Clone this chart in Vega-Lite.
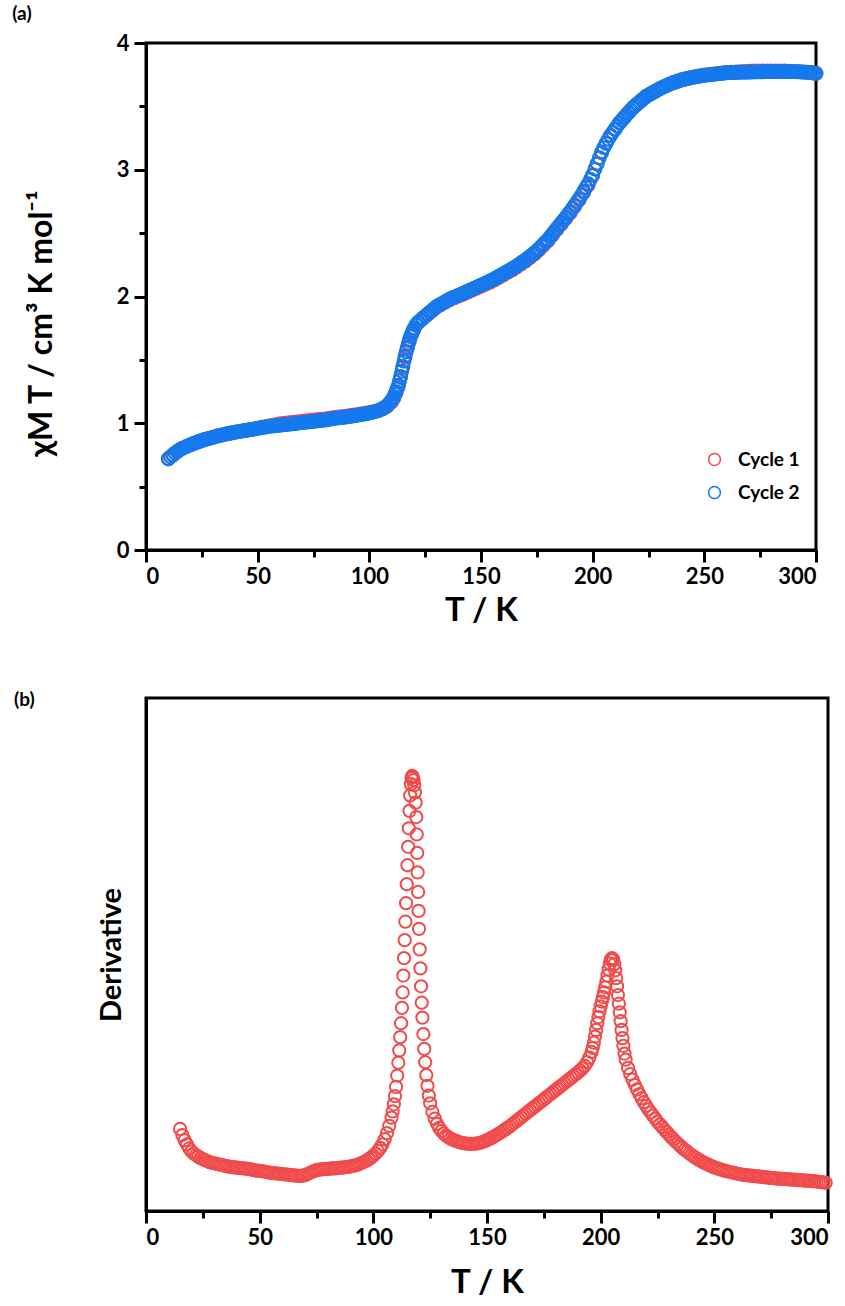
{
"$schema": "https://vega.github.io/schema/vega-lite/v6.json",
"padding": {"top": 3, "left": 10, "right": 0, "bottom": 0},
"background": "white",
"spacing": 60,
"config": {
 "view": {"stroke": "black", "strokeWidth": 3},
 "axis": {"domainColor": "black", "domainWidth": 3, "tickColor": "black", "tickWidth": 3, "tickSize": 12, "labelFont": "Lato", "labelFontWeight": "bold", "labelFontSize": 22, "labelColor": "black", "titleFont": "Lato", "titleFontWeight": "bold", "titleFontSize": 33, "titleColor": "black", "grid": false},
 "legend": {"labelFont": "Lato", "labelFontWeight": "bold", "labelFontSize": 19, "labelColor": "black", "symbolType": "circle", "symbolSize": 140, "symbolStrokeWidth": 1.5, "rowPadding": 13, "labelOffset": 14},
 "title": {"font": "Lato", "fontWeight": "bold", "fontSize": 19, "color": "black"}
},
"datasets": {
 "c1": [
{"T":10,"v":0.72},{"T":12,"v":0.75},{"T":14,"v":0.778},{"T":16,"v":0.8},{"T":18,"v":0.816},{"T":20,"v":0.831},{"T":22,"v":0.845},{"T":24,"v":0.858},{"T":26,"v":0.87},{"T":28,"v":0.88},{"T":30,"v":0.89},{"T":32,"v":0.9},{"T":34,"v":0.908},{"T":36,"v":0.916},{"T":38,"v":0.923},{"T":40,"v":0.93},{"T":42,"v":0.936},{"T":44,"v":0.942},{"T":46,"v":0.948},{"T":48,"v":0.954},{"T":50,"v":0.962},{"T":52,"v":0.969},{"T":54,"v":0.975},{"T":56,"v":0.982},{"T":58,"v":0.988},{"T":60,"v":0.996},{"T":62,"v":1.0},{"T":64,"v":1.004},{"T":66,"v":1.008},{"T":68,"v":1.012},{"T":70,"v":1.016},{"T":72,"v":1.02},{"T":74,"v":1.024},{"T":76,"v":1.028},{"T":78,"v":1.032},{"T":80,"v":1.035},{"T":82,"v":1.04},{"T":84,"v":1.046},{"T":86,"v":1.05},{"T":88,"v":1.054},{"T":90,"v":1.058},{"T":92,"v":1.063},{"T":94,"v":1.068},{"T":96,"v":1.074},{"T":98,"v":1.08},{"T":100,"v":1.085},{"T":102,"v":1.092},{"T":104,"v":1.1},{"T":106,"v":1.114},{"T":108,"v":1.135},{"T":110,"v":1.17},{"T":111,"v":1.2},{"T":112,"v":1.24},{"T":113,"v":1.29},{"T":114,"v":1.36},{"T":115,"v":1.44},{"T":116,"v":1.52},{"T":117,"v":1.59},{"T":118,"v":1.65},{"T":119,"v":1.7},{"T":120,"v":1.74},{"T":122,"v":1.795},{"T":124,"v":1.826},{"T":126,"v":1.856},{"T":128,"v":1.886},{"T":130,"v":1.915},{"T":132,"v":1.935},{"T":134,"v":1.955},{"T":136,"v":1.975},{"T":138,"v":1.99},{"T":140,"v":2.003},{"T":142,"v":2.018},{"T":144,"v":2.034},{"T":146,"v":2.05},{"T":148,"v":2.065},{"T":150,"v":2.08},{"T":152,"v":2.096},{"T":154,"v":2.112},{"T":156,"v":2.13},{"T":158,"v":2.15},{"T":160,"v":2.17},{"T":162,"v":2.19},{"T":164,"v":2.21},{"T":166,"v":2.232},{"T":168,"v":2.256},{"T":170,"v":2.28},{"T":172,"v":2.308},{"T":174,"v":2.336},{"T":176,"v":2.368},{"T":178,"v":2.404},{"T":180,"v":2.44},{"T":182,"v":2.484},{"T":184,"v":2.528},{"T":186,"v":2.572},{"T":188,"v":2.616},{"T":190,"v":2.66},{"T":192,"v":2.712},{"T":194,"v":2.764},{"T":196,"v":2.82},{"T":198,"v":2.88},{"T":200,"v":2.955},{"T":202,"v":3.045},{"T":204,"v":3.135},{"T":206,"v":3.21},{"T":208,"v":3.27},{"T":210,"v":3.32},{"T":212,"v":3.37},{"T":214,"v":3.41},{"T":216,"v":3.45},{"T":218,"v":3.49},{"T":220,"v":3.52},{"T":222,"v":3.55},{"T":224,"v":3.58},{"T":226,"v":3.6},{"T":228,"v":3.62},{"T":230,"v":3.64},{"T":232,"v":3.656},{"T":234,"v":3.672},{"T":236,"v":3.686},{"T":238,"v":3.698},{"T":240,"v":3.71},{"T":242,"v":3.72},{"T":244,"v":3.728},{"T":246,"v":3.735},{"T":248,"v":3.742},{"T":250,"v":3.748},{"T":252,"v":3.752},{"T":254,"v":3.756},{"T":256,"v":3.76},{"T":258,"v":3.764},{"T":260,"v":3.768},{"T":262,"v":3.77},{"T":264,"v":3.772},{"T":266,"v":3.774},{"T":268,"v":3.776},{"T":270,"v":3.778},{"T":272,"v":3.78},{"T":274,"v":3.78},{"T":276,"v":3.78},{"T":278,"v":3.78},{"T":280,"v":3.78},{"T":282,"v":3.78},{"T":284,"v":3.78},{"T":286,"v":3.78},{"T":288,"v":3.778},{"T":290,"v":3.776},{"T":292,"v":3.774},{"T":294,"v":3.772},{"T":296,"v":3.77},{"T":298,"v":3.768},{"T":300,"v":3.762}
 ],
 "c2": [
{"T":10,"v":0.72},{"T":11,"v":0.735},{"T":12,"v":0.75},{"T":13,"v":0.765},{"T":14,"v":0.778},{"T":15,"v":0.79},{"T":16,"v":0.8},{"T":17,"v":0.808},{"T":18,"v":0.816},{"T":19,"v":0.824},{"T":20,"v":0.831},{"T":21,"v":0.838},{"T":22,"v":0.845},{"T":23,"v":0.852},{"T":24,"v":0.858},{"T":25,"v":0.864},{"T":26,"v":0.87},{"T":27,"v":0.875},{"T":28,"v":0.88},{"T":29,"v":0.885},{"T":30,"v":0.89},{"T":31,"v":0.895},{"T":32,"v":0.9},{"T":33,"v":0.904},{"T":34,"v":0.908},{"T":35,"v":0.912},{"T":36,"v":0.916},{"T":37,"v":0.92},{"T":38,"v":0.923},{"T":39,"v":0.926},{"T":40,"v":0.93},{"T":41,"v":0.933},{"T":42,"v":0.936},{"T":43,"v":0.939},{"T":44,"v":0.942},{"T":45,"v":0.945},{"T":46,"v":0.948},{"T":47,"v":0.951},{"T":48,"v":0.954},{"T":49,"v":0.957},{"T":50,"v":0.96},{"T":51,"v":0.963},{"T":52,"v":0.966},{"T":53,"v":0.969},{"T":54,"v":0.972},{"T":55,"v":0.975},{"T":56,"v":0.977},{"T":57,"v":0.979},{"T":58,"v":0.981},{"T":59,"v":0.983},{"T":60,"v":0.985},{"T":61,"v":0.987},{"T":62,"v":0.989},{"T":63,"v":0.991},{"T":64,"v":0.993},{"T":65,"v":0.995},{"T":66,"v":0.997},{"T":67,"v":0.999},{"T":68,"v":1.001},{"T":69,"v":1.003},{"T":70,"v":1.005},{"T":71,"v":1.007},{"T":72,"v":1.009},{"T":73,"v":1.011},{"T":74,"v":1.013},{"T":75,"v":1.015},{"T":76,"v":1.017},{"T":77,"v":1.019},{"T":78,"v":1.021},{"T":79,"v":1.023},{"T":80,"v":1.025},{"T":81,"v":1.028},{"T":82,"v":1.031},{"T":83,"v":1.034},{"T":84,"v":1.037},{"T":85,"v":1.04},{"T":86,"v":1.042},{"T":87,"v":1.044},{"T":88,"v":1.046},{"T":89,"v":1.048},{"T":90,"v":1.05},{"T":91,"v":1.053},{"T":92,"v":1.056},{"T":93,"v":1.059},{"T":94,"v":1.062},{"T":95,"v":1.065},{"T":96,"v":1.068},{"T":97,"v":1.071},{"T":98,"v":1.074},{"T":99,"v":1.077},{"T":100,"v":1.08},{"T":101,"v":1.085},{"T":102,"v":1.09},{"T":103,"v":1.095},{"T":104,"v":1.1},{"T":105,"v":1.108},{"T":106,"v":1.116},{"T":107,"v":1.127},{"T":108,"v":1.14},{"T":109,"v":1.16},{"T":110,"v":1.18},{"T":110.5,"v":1.195},{"T":111,"v":1.21},{"T":111.5,"v":1.23},{"T":112,"v":1.25},{"T":112.5,"v":1.275},{"T":113,"v":1.3},{"T":113.5,"v":1.335},{"T":114,"v":1.37},{"T":114.5,"v":1.41},{"T":115,"v":1.45},{"T":115.5,"v":1.49},{"T":116,"v":1.53},{"T":116.5,"v":1.565},{"T":117,"v":1.6},{"T":117.5,"v":1.63},{"T":118,"v":1.66},{"T":118.5,"v":1.685},{"T":119,"v":1.71},{"T":119.5,"v":1.73},{"T":120,"v":1.75},{"T":121,"v":1.78},{"T":122,"v":1.8},{"T":123,"v":1.815},{"T":124,"v":1.83},{"T":125,"v":1.845},{"T":126,"v":1.86},{"T":127,"v":1.875},{"T":128,"v":1.89},{"T":129,"v":1.905},{"T":130,"v":1.92},{"T":131,"v":1.93},{"T":132,"v":1.94},{"T":133,"v":1.95},{"T":134,"v":1.96},{"T":135,"v":1.97},{"T":136,"v":1.98},{"T":137,"v":1.988},{"T":138,"v":1.995},{"T":139,"v":2.003},{"T":140,"v":2.01},{"T":141,"v":2.018},{"T":142,"v":2.026},{"T":143,"v":2.034},{"T":144,"v":2.042},{"T":145,"v":2.05},{"T":146,"v":2.058},{"T":147,"v":2.066},{"T":148,"v":2.074},{"T":149,"v":2.082},{"T":150,"v":2.09},{"T":151,"v":2.098},{"T":152,"v":2.106},{"T":153,"v":2.114},{"T":154,"v":2.122},{"T":155,"v":2.13},{"T":156,"v":2.14},{"T":157,"v":2.15},{"T":158,"v":2.16},{"T":159,"v":2.17},{"T":160,"v":2.18},{"T":161,"v":2.19},{"T":162,"v":2.2},{"T":163,"v":2.21},{"T":164,"v":2.22},{"T":165,"v":2.23},{"T":166,"v":2.242},{"T":167,"v":2.254},{"T":168,"v":2.266},{"T":169,"v":2.278},{"T":170,"v":2.29},{"T":171,"v":2.304},{"T":172,"v":2.318},{"T":173,"v":2.332},{"T":174,"v":2.346},{"T":175,"v":2.36},{"T":176,"v":2.378},{"T":177,"v":2.396},{"T":178,"v":2.414},{"T":179,"v":2.432},{"T":180,"v":2.45},{"T":181,"v":2.472},{"T":182,"v":2.494},{"T":183,"v":2.516},{"T":184,"v":2.538},{"T":185,"v":2.56},{"T":186,"v":2.582},{"T":187,"v":2.604},{"T":188,"v":2.626},{"T":189,"v":2.648},{"T":190,"v":2.67},{"T":191,"v":2.696},{"T":192,"v":2.722},{"T":193,"v":2.748},{"T":194,"v":2.774},{"T":195,"v":2.8},{"T":196,"v":2.83},{"T":197,"v":2.86},{"T":198,"v":2.89},{"T":199,"v":2.925},{"T":200,"v":2.96},{"T":201,"v":3.005},{"T":202,"v":3.05},{"T":203,"v":3.095},{"T":204,"v":3.14},{"T":205,"v":3.175},{"T":206,"v":3.21},{"T":207,"v":3.24},{"T":208,"v":3.27},{"T":209,"v":3.295},{"T":210,"v":3.32},{"T":211,"v":3.345},{"T":212,"v":3.37},{"T":213,"v":3.39},{"T":214,"v":3.41},{"T":215,"v":3.43},{"T":216,"v":3.45},{"T":217,"v":3.47},{"T":218,"v":3.49},{"T":219,"v":3.505},{"T":220,"v":3.52},{"T":221,"v":3.535},{"T":222,"v":3.55},{"T":223,"v":3.565},{"T":224,"v":3.58},{"T":225,"v":3.59},{"T":226,"v":3.6},{"T":227,"v":3.61},{"T":228,"v":3.62},{"T":229,"v":3.63},{"T":230,"v":3.64},{"T":231,"v":3.648},{"T":232,"v":3.656},{"T":233,"v":3.664},{"T":234,"v":3.672},{"T":235,"v":3.68},{"T":236,"v":3.686},{"T":237,"v":3.692},{"T":238,"v":3.698},{"T":239,"v":3.704},{"T":240,"v":3.71},{"T":241,"v":3.714},{"T":242,"v":3.718},{"T":243,"v":3.722},{"T":244,"v":3.726},{"T":245,"v":3.73},{"T":246,"v":3.733},{"T":247,"v":3.736},{"T":248,"v":3.739},{"T":249,"v":3.742},{"T":250,"v":3.745},{"T":251,"v":3.747},{"T":252,"v":3.749},{"T":253,"v":3.751},{"T":254,"v":3.753},{"T":255,"v":3.755},{"T":256,"v":3.757},{"T":257,"v":3.759},{"T":258,"v":3.761},{"T":259,"v":3.763},{"T":260,"v":3.765},{"T":261,"v":3.766},{"T":262,"v":3.767},{"T":263,"v":3.768},{"T":264,"v":3.768},{"T":265,"v":3.769},{"T":266,"v":3.769},{"T":267,"v":3.77},{"T":268,"v":3.77},{"T":269,"v":3.77},{"T":270,"v":3.771},{"T":271,"v":3.771},{"T":272,"v":3.772},{"T":273,"v":3.772},{"T":274,"v":3.772},{"T":275,"v":3.773},{"T":276,"v":3.773},{"T":277,"v":3.773},{"T":278,"v":3.774},{"T":279,"v":3.774},{"T":280,"v":3.774},{"T":281,"v":3.774},{"T":282,"v":3.775},{"T":283,"v":3.775},{"T":284,"v":3.775},{"T":285,"v":3.775},{"T":286,"v":3.775},{"T":287,"v":3.775},{"T":288,"v":3.775},{"T":289,"v":3.774},{"T":290,"v":3.774},{"T":291,"v":3.773},{"T":292,"v":3.773},{"T":293,"v":3.772},{"T":294,"v":3.771},{"T":295,"v":3.77},{"T":296,"v":3.769},{"T":297,"v":3.767},{"T":298,"v":3.765},{"T":299,"v":3.763},{"T":300,"v":3.76}
 ],
 "d": [
{"T":15,"v":16.0},{"T":16,"v":14.8},{"T":17,"v":13.8},{"T":18,"v":13.0},{"T":19,"v":12.2},{"T":20,"v":11.6},{"T":21,"v":11.2},{"T":22,"v":10.9},{"T":23,"v":10.6},{"T":24,"v":10.3},{"T":25,"v":10.1},{"T":26,"v":9.9},{"T":27,"v":9.7},{"T":28,"v":9.5},{"T":29,"v":9.4},{"T":30,"v":9.3},{"T":31,"v":9.2},{"T":32,"v":9.1},{"T":33,"v":9.0},{"T":34,"v":8.9},{"T":35,"v":8.8},{"T":36,"v":8.7},{"T":37,"v":8.6},{"T":38,"v":8.55},{"T":39,"v":8.5},{"T":40,"v":8.45},{"T":41,"v":8.4},{"T":42,"v":8.35},{"T":43,"v":8.3},{"T":44,"v":8.25},{"T":45,"v":8.2},{"T":46,"v":8.1},{"T":47,"v":8.0},{"T":48,"v":7.9},{"T":49,"v":7.85},{"T":50,"v":7.8},{"T":51,"v":7.75},{"T":52,"v":7.7},{"T":53,"v":7.6},{"T":54,"v":7.5},{"T":55,"v":7.45},{"T":56,"v":7.4},{"T":57,"v":7.35},{"T":58,"v":7.3},{"T":59,"v":7.25},{"T":60,"v":7.2},{"T":61,"v":7.15},{"T":62,"v":7.1},{"T":63,"v":7.05},{"T":64,"v":7.0},{"T":65,"v":6.95},{"T":66,"v":6.9},{"T":67,"v":6.85},{"T":68,"v":6.85},{"T":69,"v":6.9},{"T":70,"v":7.0},{"T":71,"v":7.2},{"T":72,"v":7.4},{"T":73,"v":7.6},{"T":74,"v":7.8},{"T":75,"v":7.95},{"T":76,"v":8.05},{"T":77,"v":8.1},{"T":78,"v":8.15},{"T":79,"v":8.2},{"T":80,"v":8.2},{"T":81,"v":8.25},{"T":82,"v":8.3},{"T":83,"v":8.3},{"T":84,"v":8.35},{"T":85,"v":8.4},{"T":86,"v":8.45},{"T":87,"v":8.5},{"T":88,"v":8.55},{"T":89,"v":8.6},{"T":90,"v":8.7},{"T":91,"v":8.8},{"T":92,"v":8.9},{"T":93,"v":9.0},{"T":94,"v":9.2},{"T":95,"v":9.4},{"T":96,"v":9.6},{"T":97,"v":9.8},{"T":98,"v":10.1},{"T":99,"v":10.4},{"T":100,"v":10.8},{"T":101,"v":11.2},{"T":102,"v":11.7},{"T":103,"v":12.3},{"T":104,"v":13.0},{"T":105,"v":14.0},{"T":106,"v":15.2},{"T":107,"v":16.6},{"T":108,"v":18.2},{"T":108.5,"v":19.4},{"T":109,"v":20.8},{"T":109.5,"v":22.4},{"T":110,"v":24.2},{"T":110.5,"v":26.4},{"T":111,"v":28.9},{"T":111.4,"v":31.3},{"T":111.8,"v":33.9},{"T":112.2,"v":36.6},{"T":112.6,"v":39.6},{"T":112.9,"v":42.6},{"T":113.2,"v":45.9},{"T":113.5,"v":49.3},{"T":113.8,"v":52.8},{"T":114.1,"v":56.4},{"T":114.4,"v":60.0},{"T":114.7,"v":63.7},{"T":115.0,"v":67.4},{"T":115.3,"v":71.0},{"T":115.6,"v":74.6},{"T":115.9,"v":78.0},{"T":116.2,"v":81.0},{"T":116.5,"v":83.2},{"T":116.8,"v":84.4},{"T":117.1,"v":84.8},{"T":117.4,"v":84.6},{"T":117.7,"v":84.0},{"T":118.0,"v":83.0},{"T":118.3,"v":81.6},{"T":118.6,"v":79.6},{"T":118.9,"v":76.8},{"T":119.1,"v":73.4},{"T":119.3,"v":69.8},{"T":119.5,"v":66.0},{"T":119.7,"v":62.2},{"T":119.9,"v":58.5},{"T":120.1,"v":55.0},{"T":120.4,"v":51.0},{"T":120.7,"v":47.3},{"T":121.0,"v":43.8},{"T":121.3,"v":40.6},{"T":121.6,"v":37.7},{"T":122.0,"v":34.5},{"T":122.4,"v":31.6},{"T":122.8,"v":29.0},{"T":123.3,"v":26.5},{"T":123.8,"v":24.4},{"T":124.4,"v":22.5},{"T":125,"v":21.0},{"T":126,"v":19.3},{"T":127,"v":18.0},{"T":128,"v":17.0},{"T":129,"v":16.2},{"T":130,"v":15.6},{"T":131,"v":15.1},{"T":132,"v":14.7},{"T":133,"v":14.4},{"T":134,"v":14.1},{"T":135,"v":13.9},{"T":136,"v":13.7},{"T":137,"v":13.55},{"T":138,"v":13.4},{"T":139,"v":13.3},{"T":140,"v":13.2},{"T":141,"v":13.15},{"T":142,"v":13.1},{"T":143,"v":13.1},{"T":144,"v":13.1},{"T":145,"v":13.15},{"T":146,"v":13.2},{"T":147,"v":13.3},{"T":148,"v":13.45},{"T":149,"v":13.6},{"T":150,"v":13.8},{"T":151,"v":14.0},{"T":152,"v":14.25},{"T":153,"v":14.5},{"T":154,"v":14.75},{"T":155,"v":15.0},{"T":156,"v":15.3},{"T":157,"v":15.6},{"T":158,"v":15.9},{"T":159,"v":16.2},{"T":160,"v":16.5},{"T":161,"v":16.85},{"T":162,"v":17.2},{"T":163,"v":17.55},{"T":164,"v":17.9},{"T":165,"v":18.25},{"T":166,"v":18.6},{"T":167,"v":18.95},{"T":168,"v":19.3},{"T":169,"v":19.65},{"T":170,"v":20.0},{"T":171,"v":20.35},{"T":172,"v":20.7},{"T":173,"v":21.05},{"T":174,"v":21.4},{"T":175,"v":21.75},{"T":176,"v":22.1},{"T":177,"v":22.45},{"T":178,"v":22.8},{"T":179,"v":23.15},{"T":180,"v":23.5},{"T":181,"v":23.85},{"T":182,"v":24.2},{"T":183,"v":24.55},{"T":184,"v":24.9},{"T":185,"v":25.25},{"T":186,"v":25.6},{"T":187,"v":25.95},{"T":188,"v":26.3},{"T":189,"v":26.65},{"T":190,"v":27.0},{"T":191,"v":27.4},{"T":192,"v":27.8},{"T":193,"v":28.3},{"T":194,"v":29.0},{"T":195,"v":29.9},{"T":196,"v":31.0},{"T":196.5,"v":31.8},{"T":197,"v":32.8},{"T":197.5,"v":34.0},{"T":198,"v":35.3},{"T":198.5,"v":36.6},{"T":199,"v":37.8},{"T":199.5,"v":38.9},{"T":200,"v":39.9},{"T":200.5,"v":40.8},{"T":201,"v":41.7},{"T":201.5,"v":42.6},{"T":202,"v":43.6},{"T":202.5,"v":44.7},{"T":203,"v":45.9},{"T":203.5,"v":47.1},{"T":204,"v":48.2},{"T":204.5,"v":49.0},{"T":205,"v":49.3},{"T":205.5,"v":49.0},{"T":206,"v":48.1},{"T":206.4,"v":46.9},{"T":206.8,"v":45.4},{"T":207.2,"v":43.8},{"T":207.6,"v":42.1},{"T":208,"v":40.4},{"T":208.4,"v":38.7},{"T":208.8,"v":37.0},{"T":209.2,"v":35.3},{"T":209.6,"v":33.7},{"T":210,"v":32.2},{"T":210.5,"v":30.7},{"T":211,"v":29.5},{"T":212,"v":27.9},{"T":213,"v":26.7},{"T":214,"v":25.6},{"T":215,"v":24.6},{"T":216,"v":23.7},{"T":217,"v":22.8},{"T":218,"v":22.0},{"T":219,"v":21.2},{"T":220,"v":20.5},{"T":221,"v":19.8},{"T":222,"v":19.2},{"T":223,"v":18.6},{"T":224,"v":18.0},{"T":225,"v":17.4},{"T":226,"v":16.9},{"T":227,"v":16.4},{"T":228,"v":15.9},{"T":229,"v":15.4},{"T":230,"v":14.9},{"T":231,"v":14.4},{"T":232,"v":14.0},{"T":233,"v":13.5},{"T":234,"v":13.1},{"T":235,"v":12.7},{"T":236,"v":12.3},{"T":237,"v":11.9},{"T":238,"v":11.6},{"T":239,"v":11.2},{"T":240,"v":10.9},{"T":241,"v":10.6},{"T":242,"v":10.3},{"T":243,"v":10.0},{"T":244,"v":9.8},{"T":245,"v":9.5},{"T":246,"v":9.3},{"T":247,"v":9.1},{"T":248,"v":8.9},{"T":249,"v":8.7},{"T":250,"v":8.5},{"T":251,"v":8.35},{"T":252,"v":8.2},{"T":253,"v":8.05},{"T":254,"v":7.9},{"T":255,"v":7.8},{"T":256,"v":7.7},{"T":257,"v":7.6},{"T":258,"v":7.5},{"T":259,"v":7.4},{"T":260,"v":7.3},{"T":261,"v":7.2},{"T":262,"v":7.1},{"T":263,"v":7.05},{"T":264,"v":7.0},{"T":265,"v":6.95},{"T":266,"v":6.9},{"T":267,"v":6.85},{"T":268,"v":6.8},{"T":269,"v":6.75},{"T":270,"v":6.7},{"T":271,"v":6.65},{"T":272,"v":6.6},{"T":273,"v":6.55},{"T":274,"v":6.5},{"T":275,"v":6.45},{"T":276,"v":6.4},{"T":277,"v":6.35},{"T":278,"v":6.3},{"T":279,"v":6.3},{"T":280,"v":6.25},{"T":281,"v":6.2},{"T":282,"v":6.2},{"T":283,"v":6.15},{"T":284,"v":6.1},{"T":285,"v":6.1},{"T":286,"v":6.05},{"T":287,"v":6.0},{"T":288,"v":6.0},{"T":289,"v":5.95},{"T":290,"v":5.9},{"T":291,"v":5.9},{"T":292,"v":5.85},{"T":293,"v":5.8},{"T":294,"v":5.8},{"T":295,"v":5.75},{"T":296,"v":5.7},{"T":297,"v":5.65},{"T":298,"v":5.6},{"T":299,"v":5.5}
 ]
},
"vconcat": [
 {
  "width": 670, "height": 507,
  "title": {"text": "(a)", "anchor": "start", "frame": "bounds", "dx": -13, "offset": 8},
  "layer": [
   {
    "data": {"name": "c1"},
    "mark": {"type": "point", "shape": "circle", "size": 160, "strokeWidth": 2.2, "filled": false, "opacity": 1},
    "encoding": {
     "x": {"field": "T", "type": "quantitative", "scale": {"domain": [0, 300], "nice": false}, "axis": {"title": "T / K", "values": [0, 50, 100, 150, 200, 250, 300], "labelPadding": 4, "titlePadding": 7}},
     "y": {"field": "v", "type": "quantitative", "scale": {"domain": [0, 4], "nice": false}, "axis": {"title": "χM T / cm³ K mol⁻¹", "values": [0, 1, 2, 3, 4], "labelPadding": 5, "titlePadding": 58, "titleFontSize": 32, "titleY": 280}},
     "color": {"datum": "Cycle 1", "scale": {"domain": ["Cycle 1", "Cycle 2"], "range": ["#F04C4C", "#1479EE"]}, "legend": {"title": null, "orient": "none", "legendX": 559, "legendY": 407}}
    }
   },
   {
    "data": {"name": "c2"},
    "mark": {"type": "point", "shape": "circle", "size": 160, "strokeWidth": 2.2, "filled": false, "opacity": 1},
    "encoding": {
     "x": {"field": "T", "type": "quantitative", "axis": {"orient": "bottom", "title": null, "labels": false, "domain": false, "values": [25, 75, 125, 175, 225, 275], "tickSize": 7}},
     "y": {"field": "v", "type": "quantitative", "axis": {"orient": "left", "title": null, "labels": false, "domain": false, "values": [0.5, 1.5, 2.5, 3.5], "tickSize": 7}},
     "color": {"datum": "Cycle 2"}
    }
   }
  ],
  "resolve": {"axis": {"x": "independent", "y": "independent"}}
 },
 {
  "width": 682, "height": 513,
  "title": {"text": "(b)", "anchor": "start", "frame": "bounds", "dx": -83, "offset": -12},
  "layer": [
   {
    "data": {"name": "d"},
    "mark": {"type": "point", "shape": "circle", "size": 150, "strokeWidth": 2, "filled": false, "opacity": 1, "color": "#F04C4C"},
    "encoding": {
     "x": {"field": "T", "type": "quantitative", "scale": {"domain": [0, 300], "nice": false}, "axis": {"title": "T / K", "values": [0, 50, 100, 150, 200, 250, 300], "labelPadding": 4, "titlePadding": 18}},
     "y": {"field": "v", "type": "quantitative", "scale": {"domain": [0, 100], "nice": false}, "axis": {"title": "Derivative", "ticks": false, "labels": false, "titlePadding": 20, "titleFontSize": 29}}
    }
   },
   {
    "data": {"name": "d"},
    "mark": {"type": "point", "shape": "circle", "size": 150, "filled": false, "opacity": 0},
    "encoding": {
     "x": {"field": "T", "type": "quantitative", "axis": {"orient": "bottom", "title": null, "labels": false, "domain": false, "values": [25, 75, 125, 175, 225, 275], "tickSize": 7}},
     "y": {"field": "v", "type": "quantitative", "axis": {"title": "Derivative", "ticks": false, "labels": false, "titlePadding": 20, "titleFontSize": 29}}
    }
   }
  ],
  "resolve": {"axis": {"x": "independent"}}
 }
]
}
